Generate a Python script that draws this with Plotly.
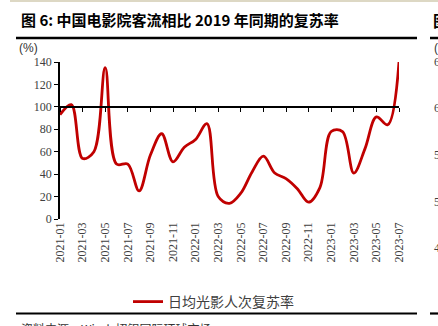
import plotly.graph_objects as go

months = ["2021-01", "2021-02", "2021-03", "2021-04", "2021-05", "2021-06", "2021-07",
          "2021-08", "2021-09", "2021-10", "2021-11", "2021-12", "2022-01", "2022-02",
          "2022-03", "2022-04", "2022-05", "2022-06", "2022-07", "2022-08", "2022-09",
          "2022-10", "2022-11", "2022-12", "2023-01", "2023-02", "2023-03", "2023-04",
          "2023-05", "2023-06", "2023-07"]
recovery = [93, 102, 54, 60, 135, 49, 49, 25, 57, 76, 51, 64, 71, 85, 20, 14, 23, 42,
            56, 41, 36, 27, 15, 28, 78, 78, 41, 63, 91, 84, 140]
tick_labels = months[::2]
y_ticks = [0, 20, 40, 60, 80, 100, 120, 140]
series_name = "日均光影人次复苏率"
title = "图 6: 中国电影院客流相比 2019 年同期的复苏率"
source = "资料来源：Wind, 招银国际环球市场"

W, H = 438, 326
def px_x(p): return p / W
def px_y(p): return 1 - p / H

y_dom = [px_y(219), px_y(62)]
x_dom = [px_x(60), px_x(399)]
y_lo, y_hi = 0, 140
cross_val = 100
cross_pos = y_dom[0] + (cross_val - y_lo) / (y_hi - y_lo) * (y_dom[1] - y_dom[0])

serif = "Liberation Serif"
cjk = "Noto Sans CJK SC"

fig = go.Figure()
fig.add_trace(go.Scatter(
    x=months, y=recovery, mode="lines", name=series_name,
    line=dict(color="#c00000", width=2.8, shape="spline", smoothing=1.0),
    cliponaxis=True,
))
fig.add_trace(go.Scatter(x=months, y=recovery, xaxis="x2", mode="lines",
                         line=dict(width=0), showlegend=False, hoverinfo="skip", opacity=0))

fig.update_layout(
    width=W, height=H,
    margin=dict(l=0, r=0, t=0, b=0, autoexpand=False),
    paper_bgcolor="white", plot_bgcolor="rgba(0,0,0,0)",
    showlegend=True,
    legend=dict(orientation="h", x=px_x(128), xanchor="left", y=px_y(302), yanchor="middle",
                font=dict(family=cjk, size=14, color="#404040"),
                itemwidth=30, bgcolor="rgba(0,0,0,0)"),
    xaxis=dict(domain=x_dom, anchor="y", type="category", range=[0, len(months) - 1],
               tickmode="array", tickvals=tick_labels, ticktext=tick_labels,
               tickangle=-90, tickfont=dict(family=serif, size=12, color="#404040"),
               showline=False, showgrid=False, zeroline=False, ticks="", automargin=False),
    xaxis2=dict(domain=x_dom, anchor="free", position=cross_pos, overlaying="x",
                type="category", range=[0, len(months) - 1],
                tickmode="array", tickvals=tick_labels, showticklabels=False,
                showline=True, linecolor="black", linewidth=1.5,
                ticks="outside", ticklen=4, tickwidth=1.2, tickcolor="black",
                showgrid=False, zeroline=False),
    yaxis=dict(domain=y_dom, range=[y_lo, y_hi], tickmode="array", tickvals=y_ticks,
               tickfont=dict(family=serif, size=12, color="#404040"),
               showline=True, linecolor="black", linewidth=1.5,
               ticks="outside", ticklen=4, tickwidth=1.2, tickcolor="black",
               showgrid=False, zeroline=False, automargin=False),
)

shapes = [
    dict(type="rect", xref="paper", yref="paper", x0=px_x(10), x1=1, y0=px_y(2), y1=1,
         fillcolor="#ddd8c4", line=dict(width=0)),
    dict(type="line", xref="paper", yref="paper", x0=px_x(16), x1=px_x(417),
         y0=px_y(38), y1=px_y(38), line=dict(color="black", width=2.5)),
    dict(type="line", xref="paper", yref="paper", x0=px_x(16), x1=px_x(417),
         y0=px_y(313.5), y1=px_y(313.5), line=dict(color="black", width=2.2)),
    dict(type="line", xref="paper", yref="paper", x0=px_x(430), x1=1,
         y0=px_y(38), y1=px_y(38), line=dict(color="black", width=2.5)),
    dict(type="line", xref="paper", yref="paper", x0=px_x(430), x1=1,
         y0=px_y(313.5), y1=px_y(313.5), line=dict(color="black", width=2.2)),
]
fig.update_layout(shapes=shapes)

ann = [
    dict(text="<b>" + title + "</b>", x=px_x(19), y=px_y(20), xanchor="left", yanchor="middle",
         font=dict(family=cjk, size=15, color="black")),
    dict(text="(%)", x=px_x(17), y=px_y(48), xanchor="left", yanchor="middle",
         font=dict(family="Liberation Sans", size=12, color="#333333")),
    dict(text=source, x=px_x(19), y=px_y(318), xanchor="left", yanchor="top",
         font=dict(family=cjk, size=12, color="#333333")),
    dict(text="<b>图</b>", x=px_x(431), y=px_y(20), xanchor="left", yanchor="middle",
         font=dict(family=cjk, size=16, color="black")),
    dict(text="(%)", x=px_x(432), y=px_y(48), xanchor="left", yanchor="middle",
         font=dict(family="Liberation Sans", size=12, color="#333333")),
]
for i, t in enumerate(["65", "60", "55", "50", "45"]):
    ann.append(dict(text=t, x=px_x(432), y=px_y(62 + 46.5 * i), xanchor="left", yanchor="middle",
                    font=dict(family=serif, size=12, color="#404040")))
for a in ann:
    a.update(xref="paper", yref="paper", showarrow=False)
fig.update_layout(annotations=ann)

fig.write_html("out.html", post_script="document.body.style.margin='0';")
